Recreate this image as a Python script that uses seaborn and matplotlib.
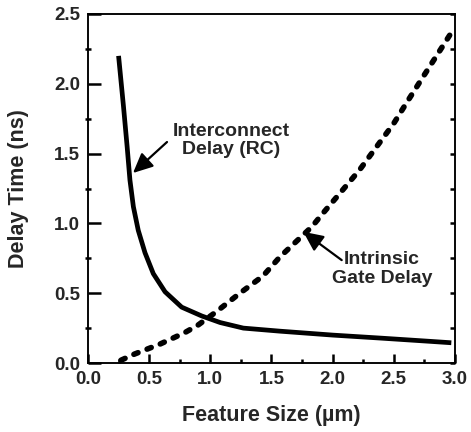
import numpy as np
import pandas as pd
import matplotlib
matplotlib.use("Agg")
import matplotlib.pyplot as plt
import seaborn as sns
from matplotlib.ticker import MultipleLocator

# values
rc_size = [0.25, 0.29, 0.32, 0.343, 0.371, 0.411, 0.466, 0.534, 0.63, 0.766, 0.93, 1.08, 1.27, 1.57, 2.0, 2.4, 2.8, 2.97]
rc_delay = [2.20, 1.84, 1.55, 1.31, 1.12, 0.95, 0.79, 0.64, 0.51, 0.40, 0.337, 0.29, 0.25, 0.228, 0.20, 0.178, 0.155, 0.145]

gate_size = [0.27, 0.38, 0.59, 0.79, 0.90, 1.05, 1.24, 1.43, 1.57, 1.83, 1.92, 2.07, 2.22, 2.36, 2.50, 2.61, 2.74, 2.97]
gate_delay = [0.02, 0.064, 0.136, 0.217, 0.272, 0.368, 0.499, 0.623, 0.761, 0.976, 1.072, 1.227, 1.383, 1.55, 1.717, 1.872, 2.051, 2.366]

x_ticks = [0.0, 0.5, 1.0, 1.5, 2.0, 2.5, 3.0]
y_ticks = [0.0, 0.5, 1.0, 1.5, 2.0, 2.5]

rc = pd.DataFrame({"size": rc_size, "delay": rc_delay})
gate = pd.DataFrame({"size": gate_size, "delay": gate_delay})

sns.set_style("ticks")
plt.rcParams["font.family"] = ["Liberation Sans", "DejaVu Sans"]
plt.rcParams["font.weight"] = "bold"

fig = plt.figure(figsize=(4.71, 4.32), dpi=100)
ax = fig.add_axes([0.1868, 0.1597, 0.966 - 0.1868, 0.9676 - 0.1597])

sns.lineplot(data=rc, x="size", y="delay", ax=ax, color="black", linewidth=3.4,
             solid_capstyle="butt")
sns.lineplot(data=gate, x="size", y="delay", ax=ax, color="black", linewidth=4.0,
             linestyle=(0, (0.8, 1.75)), dash_capstyle="round")

ax.set_xlim(0, 3.0)
ax.set_ylim(0, 2.5)

# right side: small inward ticks every 0.25
ax2 = ax.twinx()
ax2.set_ylim(0, 2.5)
ax2.yaxis.set_major_locator(MultipleLocator(0.25))
ax2.tick_params(axis="y", which="major", direction="in", length=3.8, width=1.8,
                color="black", labelright=False, right=True, left=False)
ax2.grid(False)

ax.set_xticks(x_ticks)
ax.set_yticks(y_ticks)
ax.xaxis.set_minor_locator(MultipleLocator(0.25))
ax.yaxis.set_minor_locator(MultipleLocator(0.25))
ax.set_xticklabels([f"{v:.1f}" for v in x_ticks])
ax.set_yticklabels([f"{v:.1f}" for v in y_ticks])

ax.tick_params(axis="y", which="major", direction="in", length=9, width=1.8,
               color="black", labelsize=13.5, pad=5.5, left=True, right=False)
ax.tick_params(axis="y", which="minor", direction="inout", length=4, width=1.8,
               color="black", left=True, right=False)
ax.tick_params(axis="x", which="major", direction="in", length=6.5, width=1.8,
               color="black", labelsize=13.5, pad=6, bottom=True, top=False)
ax.tick_params(axis="x", which="minor", direction="in", length=2.8, width=1.8,
               color="black", bottom=True, top=False)

for a in (ax, ax2):
    for s in a.spines.values():
        s.set_linewidth(1.1)
        s.set_color("black")

ax.set_xlabel("Feature Size (\u00b5m)", fontsize=15.5, fontweight="bold")
ax.set_ylabel("Delay Time (ns)", fontsize=15.5, fontweight="bold")
ax.xaxis.set_label_coords(0.5, -0.12)
ax.yaxis.set_label_coords(-0.161, 0.5)

arrow = dict(arrowstyle="-|>,head_length=0.6,head_width=0.28", color="black",
             lw=1.6, mutation_scale=20, shrinkA=0, shrinkB=0)
ax.annotate("", xy=(0.368, 1.361), xytext=(0.646, 1.583), arrowprops=arrow)
ax.annotate("", xy=(1.76, 0.94), xytext=(2.074, 0.737), arrowprops=arrow)

ax.text(1.168, 1.721, "Interconnect\nDelay (RC)", ha="center", va="top",
        multialignment="center", fontsize=14, fontweight="bold", linespacing=1.1)
ax.text(2.404, 0.804, "Intrinsic\nGate Delay", ha="center", va="top",
        multialignment="center", fontsize=14, fontweight="bold", linespacing=1.15)

fig.savefig("out.png", dpi=100)
